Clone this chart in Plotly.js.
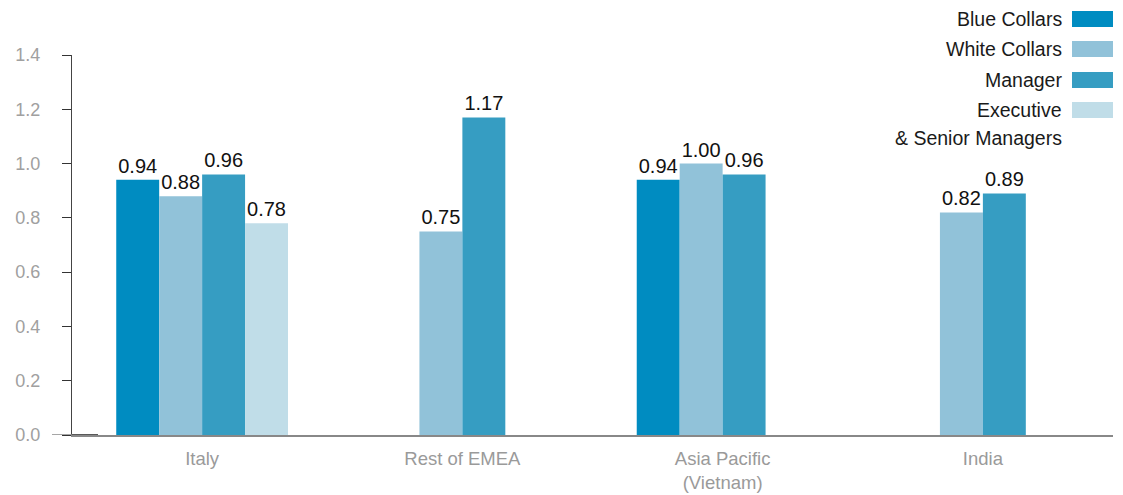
<!DOCTYPE html>
<html>
<head>
<meta charset="utf-8">
<script src="https://cdn.plot.ly/plotly-3.0.1.min.js"></script>
<style>
  html, body { margin: 0; padding: 0; background: #ffffff; }
  #chart { width: 1123px; height: 495px; }
</style>
</head>
<body>
<div id="chart"></div>
<script>
// Regions on the x axis
const regions = ['Italy', 'Rest of EMEA', 'Asia Pacific<br>(Vietnam)', 'India'];

// Ratio per employee category (null = no value reported)
const blueCollars  = [0.94, null, 0.94, null];
const whiteCollars = [0.88, 0.75, 1.00, 0.82];
const manager      = [0.96, 1.17, 0.96, 0.89];
const executive    = [0.78, null, null, null];

const seriesNames = ['Blue Collars', 'White Collars', 'Manager', 'Executive'];
const yTicks = [0, 0.2, 0.4, 0.6, 0.8, 1.0, 1.2, 1.4];

// Styling
const colors = ['#008cc1', '#91c2d9', '#369dc2', '#c0dde8'];
const FONT = '"Liberation Sans", Arial, Helvetica, sans-serif';

const W = 1123, H = 495;
const M = { l: 72, r: 10, t: 55, b: 60 };
const plotW = W - M.l - M.r, plotH = H - M.t - M.b;
const px2x = p => (p - M.l) / plotW;
const px2y = p => (H - M.b - p) / plotH;

const seriesValues = [blueCollars, whiteCollars, manager, executive];
const traces = seriesValues.map((vals, i) => ({
  type: 'bar',
  name: seriesNames[i],
  x: regions,
  y: vals,
  marker: { color: colors[i], line: { width: 0 } },
  text: vals.map(v => v == null ? '' : v.toFixed(2)),
  textposition: 'outside',
  textfont: { family: FONT, size: 20, color: '#111111' },
  cliponaxis: false,
  hoverinfo: 'x+y+name',
  showlegend: false
}));

// Legend drawn on the right: label text to the left of each swatch
const legendLabels = ['Blue Collars', 'White Collars', 'Manager', 'Executive'];
const legendRows = [19, 49, 80, 110];
const annotations = legendLabels.map((t, i) => ({
  xref: 'paper', yref: 'paper',
  x: px2x(1064), y: px2y(legendRows[i]),
  xanchor: 'right', yanchor: 'middle',
  text: t, showarrow: false,
  font: { family: FONT, size: 19.5, color: '#1a1a1a' }
}));
annotations.push({
  xref: 'paper', yref: 'paper',
  x: px2x(1064), y: px2y(138),
  xanchor: 'right', yanchor: 'middle',
  text: '& Senior Managers', showarrow: false,
  font: { family: FONT, size: 19.5, color: '#1a1a1a' }
});

const shapes = legendRows.map((r, i) => ({
  type: 'rect', xref: 'paper', yref: 'paper',
  x0: px2x(1072), x1: 1,
  y0: px2y(r + 8), y1: px2y(r - 8),
  fillcolor: colors[i], line: { width: 0 }
}));
// Baseline extending a little to the left of the value axis
shapes.push({
  type: 'line', xref: 'paper', yref: 'y',
  x0: px2x(52), x1: 0, y0: 0, y1: 0,
  line: { color: '#888888', width: 1.5 }
});
shapes.push({
  type: 'line', xref: 'paper', yref: 'y',
  x0: 0, x1: px2x(98), y0: 0, y1: 0,
  line: { color: '#222222', width: 1.5 }
});

const layout = {
  width: W, height: H,
  margin: M,
  paper_bgcolor: '#ffffff',
  plot_bgcolor: '#ffffff',
  barmode: 'group',
  bargap: 0.34,
  bargroupgap: 0,
  showlegend: false,
  font: { family: FONT },
  xaxis: {
    type: 'category',
    range: [-0.5, 3.5],
    showline: true, linecolor: '#888888', linewidth: 1.5,
    ticks: '', showgrid: false, zeroline: false,
    tickfont: { family: FONT, size: 18.5, color: '#9a9a9a' },
    ticklabelstandoff: 6
  },
  yaxis: {
    range: [0, 1.4],
    tickvals: yTicks,
    ticktext: yTicks.map(v => v.toFixed(1)),
    showline: true, linecolor: '#444444', linewidth: 1,
    ticks: 'outside', ticklen: 9, tickcolor: '#333333', tickwidth: 1,
    showgrid: false, zeroline: false,
    tickfont: { family: FONT, size: 18, color: '#a0a0a0' },
    ticklabelstandoff: 18
  },
  annotations: annotations,
  shapes: shapes
};

Plotly.newPlot('chart', traces, layout, { displayModeBar: false, staticPlot: true });
</script>
</body>
</html>
